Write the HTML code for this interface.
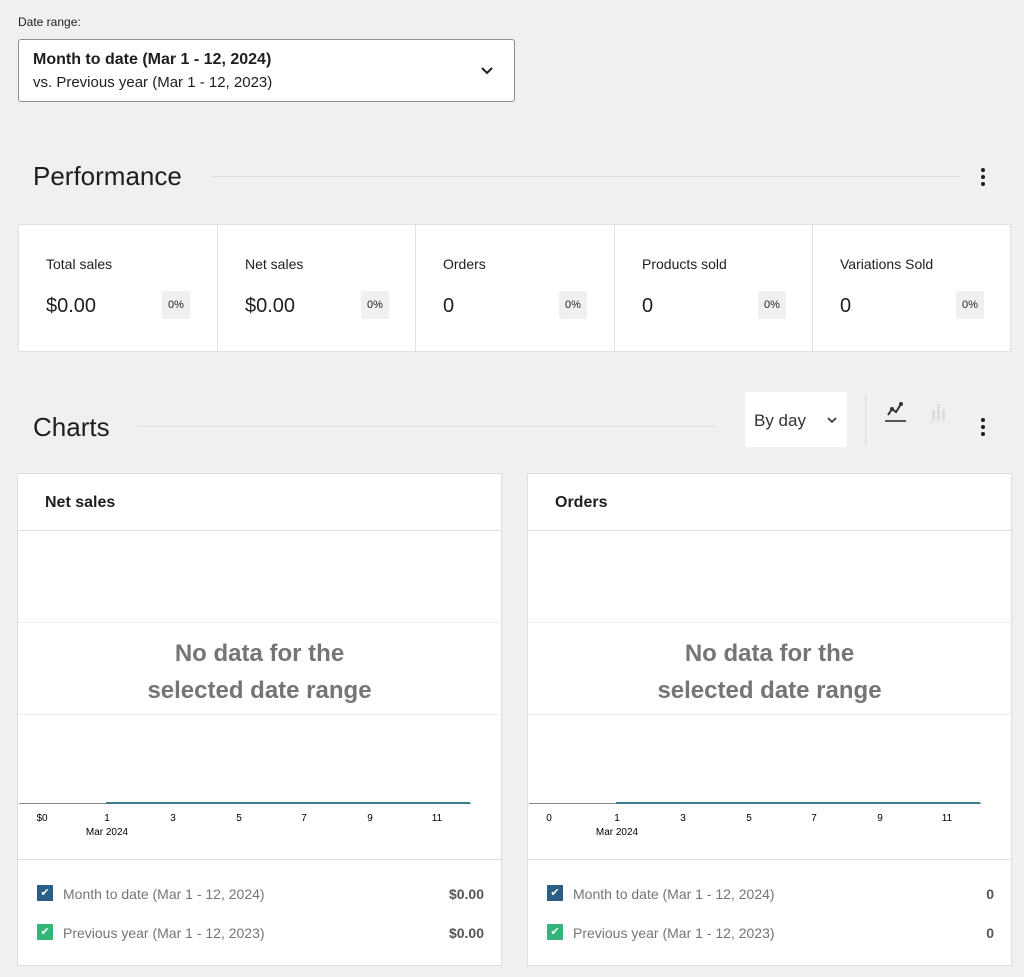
<!DOCTYPE html>
<html><head><style>
body{margin:0;width:1024px;height:977px;background:#f0f0f0;font-family:"Liberation Sans",sans-serif;position:relative;overflow:hidden;color:#1e1e1e}
.a{position:absolute;white-space:nowrap}
.card{position:absolute;top:224px;height:128px;background:#fff;border:1px solid #e0e0e0;box-sizing:border-box}
.lab{position:absolute;left:27px;top:31px;font-size:14px;color:#1e1e1e}
.val{position:absolute;left:27px;top:70px;font-size:20px;color:#1e1e1e}
.bd{position:absolute;left:143px;top:66px;width:28px;height:28px;background:#f0f0f0;font-size:11px;line-height:28px;text-align:center;border-radius:2px}
.panel{position:absolute;top:473px;width:485px;height:493px;background:#fff;border:1px solid #ddd;box-sizing:border-box}
.ph{position:absolute;left:0;right:0;top:0;height:56px;border-bottom:1px solid #e0e0e0}
.ph span{position:absolute;left:27px;top:20px;font-size:16px;font-weight:bold}
.g{position:absolute;left:0;right:0;height:1px;background:#eee}
.nd{position:absolute;left:0;right:0;top:161px;text-align:center;font-size:24px;font-weight:bold;color:#757575;line-height:37px}
.tk{position:absolute;top:339px;font-size:10px;color:#000;transform:translateX(-50%)}
.cb{position:absolute;left:19px;width:16px;height:16px;color:#fff;font-size:11px;text-align:center;line-height:16px}
.lt{position:absolute;left:45px;font-size:14px;color:#757575}
.lv{position:absolute;right:17px;font-size:14px;font-weight:bold;color:#555}
</style></head><body>
<div class="a" style="left:18px;top:15px;font-size:12px">Date range:</div>
<div class="a" style="left:18px;top:39px;width:497px;height:63px;background:#fff;border:1px solid #8c8f94;border-radius:3px;box-sizing:border-box">
<div class="a" style="left:14px;top:11px;font-size:16px;font-weight:bold">Month to date (Mar 1 - 12, 2024)</div>
<div class="a" style="left:14px;top:34px;font-size:15px">vs. Previous year (Mar 1 - 12, 2023)</div>
<svg class="a" style="left:460px;top:23px" width="16" height="16"><path d="M3 5l5 5 5-5" stroke="#1e1e1e" stroke-width="2" fill="none"/></svg>
</div>
<div class="a" style="left:33px;top:161px;font-size:26px">Performance</div>
<div class="a" style="left:212px;top:176px;width:748px;height:1px;background:#ddd"></div>
<svg class="a" style="left:979px;top:166px" width="8" height="22"><circle cx="4" cy="4" r="2" fill="#1e1e1e"/><circle cx="4" cy="11" r="2" fill="#1e1e1e"/><circle cx="4" cy="18" r="2" fill="#1e1e1e"/></svg>

<div class="card" style="left:18px;width:200px"><div class="lab">Total sales</div><div class="val">$0.00</div><div class="bd">0%</div></div>
<div class="card" style="left:217px;width:199px"><div class="lab">Net sales</div><div class="val">$0.00</div><div class="bd">0%</div></div>
<div class="card" style="left:415px;width:200px"><div class="lab">Orders</div><div class="val">0</div><div class="bd">0%</div></div>
<div class="card" style="left:614px;width:199px"><div class="lab">Products sold</div><div class="val">0</div><div class="bd">0%</div></div>
<div class="card" style="left:812px;width:199px"><div class="lab">Variations Sold</div><div class="val">0</div><div class="bd">0%</div></div>

<div class="a" style="left:33px;top:412px;font-size:26px">Charts</div>
<div class="a" style="left:137px;top:426px;width:579px;height:1px;background:#ddd"></div>
<div class="a" style="left:745px;top:392px;width:102px;height:55px;background:#fff;border-radius:2px">
<div class="a" style="left:9px;top:19px;font-size:17px;color:#333">By day</div>
<svg class="a" style="left:82px;top:24px" width="10" height="8"><path d="M1 2l4 4 4-4" stroke="#333" stroke-width="1.6" fill="none"/></svg></div>
<div class="a" style="left:865px;top:393px;width:1px;height:54px;background:#ddd"></div>
<svg class="a" style="left:884px;top:400px" width="24" height="24"><path d="M4 15l4-6 4 3 5-8" stroke="#333" stroke-width="2" fill="none"/><circle cx="8" cy="9" r="2" fill="#333"/><circle cx="17" cy="4" r="2" fill="#333"/><rect x="1" y="20" width="21" height="2" fill="#555"/></svg>
<svg class="a" style="left:929px;top:400px" width="24" height="24"><rect x="3" y="10" width="3" height="10" fill="#ddd"/><rect x="8" y="4" width="3" height="16" fill="#ddd"/><rect x="13" y="9" width="3" height="11" fill="#ddd"/><rect x="1" y="21" width="21" height="1" fill="#e5e5e5"/></svg>
<svg class="a" style="left:979px;top:416px" width="8" height="22"><circle cx="4" cy="4" r="2" fill="#1e1e1e"/><circle cx="4" cy="11" r="2" fill="#1e1e1e"/><circle cx="4" cy="18" r="2" fill="#1e1e1e"/></svg>

<div class="panel" style="left:17px">
<div class="ph"><span>Net sales</span></div>
<div class="g" style="top:148px"></div><div class="g" style="top:240px"></div>
<div class="nd">No data for the<br>selected date range</div>
<div class="a" style="left:1px;top:329px;width:452px;height:1px;background:#888"></div>
<div class="a" style="left:88px;top:328px;width:364px;height:2px;background:#3c7d8c"></div>
<div class="tk" style="left:24px">$0</div>
<div class="tk" style="left:89px">1</div><div class="tk" style="left:155px">3</div><div class="tk" style="left:221px">5</div><div class="tk" style="left:286px">7</div><div class="tk" style="left:352px">9</div><div class="tk" style="left:419px">11</div>
<div class="tk" style="left:89px;top:353px">Mar 2024</div>
<div class="g" style="top:385px;background:#ddd"></div>
<div class="cb" style="top:411px;background:#2c5f86">✔</div><div class="lt" style="top:412px">Month to date (Mar 1 - 12, 2024)</div><div class="lv" style="top:412px">$0.00</div>
<div class="cb" style="top:450px;background:#33b57a">✔</div><div class="lt" style="top:451px">Previous year (Mar 1 - 12, 2023)</div><div class="lv" style="top:451px">$0.00</div>
</div>

<div class="panel" style="left:527px">
<div class="ph"><span>Orders</span></div>
<div class="g" style="top:148px"></div><div class="g" style="top:240px"></div>
<div class="nd">No data for the<br>selected date range</div>
<div class="a" style="left:1px;top:329px;width:452px;height:1px;background:#888"></div>
<div class="a" style="left:88px;top:328px;width:364px;height:2px;background:#3c7d8c"></div>
<div class="tk" style="left:21px">0</div>
<div class="tk" style="left:89px">1</div><div class="tk" style="left:155px">3</div><div class="tk" style="left:221px">5</div><div class="tk" style="left:286px">7</div><div class="tk" style="left:352px">9</div><div class="tk" style="left:419px">11</div>
<div class="tk" style="left:89px;top:353px">Mar 2024</div>
<div class="g" style="top:385px;background:#ddd"></div>
<div class="cb" style="top:411px;background:#2c5f86">✔</div><div class="lt" style="top:412px">Month to date (Mar 1 - 12, 2024)</div><div class="lv" style="top:412px">0</div>
<div class="cb" style="top:450px;background:#33b57a">✔</div><div class="lt" style="top:451px">Previous year (Mar 1 - 12, 2023)</div><div class="lv" style="top:451px">0</div>
</div>
</body></html>
